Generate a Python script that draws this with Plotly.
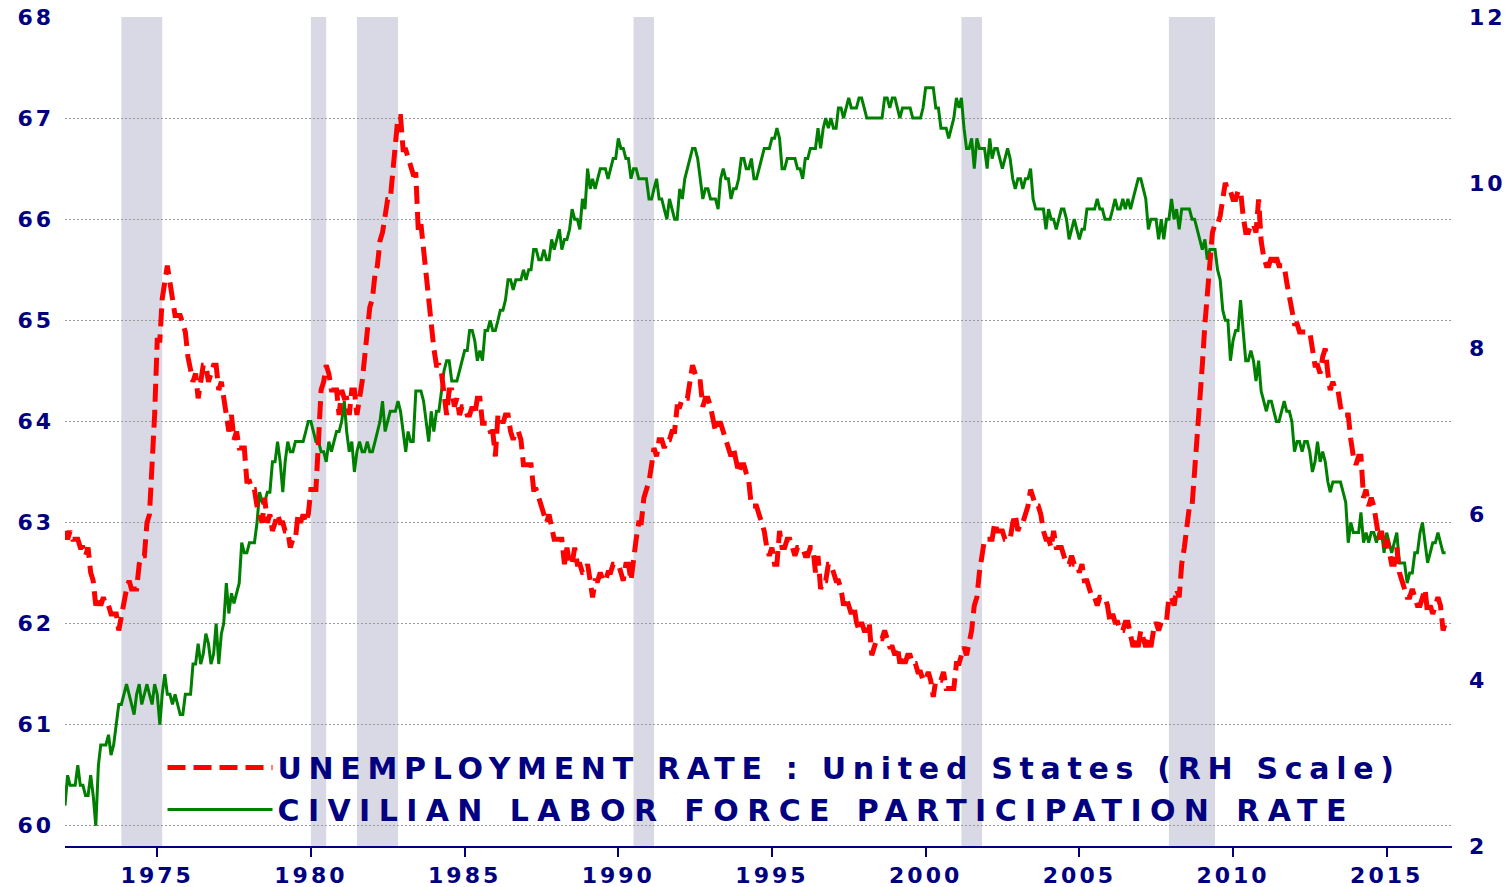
import pandas as pd
import plotly.graph_objects as go

# ---------------- data (monthly, Jan 1972 - Dec 2016) ----------------
start_month = "1972-01-01"

unemployment_rate = [
    5.8, 5.7, 5.8, 5.7, 5.7, 5.7, 5.6, 5.6, 5.5, 5.6, 5.3, 5.2,   # 1972
    4.9, 5.0, 4.9, 5.0, 4.9, 4.9, 4.8, 4.8, 4.8, 4.6, 4.8, 4.9,   # 1973
    5.1, 5.2, 5.1, 5.1, 5.1, 5.4, 5.5, 5.5, 5.9, 6.0, 6.6, 7.2,   # 1974
    8.1, 8.1, 8.6, 8.8, 9.0, 8.8, 8.6, 8.4, 8.4, 8.4, 8.3, 8.2,   # 1975
    7.9, 7.7, 7.6, 7.7, 7.4, 7.6, 7.8, 7.8, 7.6, 7.7, 7.8, 7.8,   # 1976
    7.5, 7.6, 7.4, 7.2, 7.0, 7.2, 6.9, 7.0, 6.8, 6.8, 6.8, 6.4,   # 1977
    6.4, 6.3, 6.3, 6.1, 6.0, 5.9, 6.2, 5.9, 6.0, 5.8, 5.9, 6.0,   # 1978
    5.9, 5.9, 5.8, 5.8, 5.6, 5.7, 5.7, 6.0, 5.9, 6.0, 5.9, 6.0,   # 1979
    6.3, 6.3, 6.3, 6.9, 7.5, 7.6, 7.8, 7.7, 7.5, 7.5, 7.5, 7.2,   # 1980
    7.5, 7.4, 7.4, 7.2, 7.5, 7.5, 7.2, 7.4, 7.6, 7.9, 8.3, 8.5,   # 1981
    8.6, 8.9, 9.0, 9.3, 9.4, 9.6, 9.8, 9.8, 10.1, 10.4, 10.8, 10.8,  # 1982
    10.4, 10.4, 10.3, 10.2, 10.1, 10.1, 9.4, 9.5, 9.2, 8.8, 8.5, 8.3,  # 1983
    8.0, 7.8, 7.8, 7.7, 7.4, 7.2, 7.5, 7.5, 7.3, 7.4, 7.2, 7.3,   # 1984
    7.3, 7.2, 7.2, 7.3, 7.2, 7.4, 7.4, 7.1, 7.1, 7.1, 7.0, 7.0,   # 1985
    6.7, 7.2, 7.2, 7.1, 7.2, 7.2, 7.0, 6.9, 7.0, 7.0, 6.9, 6.6,   # 1986
    6.6, 6.6, 6.6, 6.3, 6.3, 6.2, 6.1, 6.0, 5.9, 6.0, 5.8, 5.7,   # 1987
    5.7, 5.7, 5.7, 5.4, 5.6, 5.4, 5.4, 5.6, 5.4, 5.4, 5.3, 5.3,   # 1988
    5.4, 5.2, 5.0, 5.2, 5.2, 5.3, 5.2, 5.2, 5.3, 5.3, 5.4, 5.4,   # 1989
    5.4, 5.3, 5.2, 5.4, 5.4, 5.2, 5.5, 5.7, 5.9, 5.9, 6.2, 6.3,   # 1990
    6.4, 6.6, 6.8, 6.7, 6.9, 6.9, 6.8, 6.9, 6.9, 7.0, 7.0, 7.3,   # 1991
    7.3, 7.4, 7.4, 7.4, 7.6, 7.8, 7.7, 7.6, 7.6, 7.3, 7.4, 7.4,   # 1992
    7.3, 7.1, 7.0, 7.1, 7.1, 7.0, 6.9, 6.8, 6.7, 6.8, 6.6, 6.5,   # 1993
    6.6, 6.6, 6.5, 6.4, 6.1, 6.1, 6.1, 6.0, 5.9, 5.8, 5.6, 5.5,   # 1994
    5.6, 5.4, 5.4, 5.8, 5.6, 5.6, 5.7, 5.7, 5.6, 5.5, 5.6, 5.6,   # 1995
    5.6, 5.5, 5.5, 5.6, 5.6, 5.3, 5.5, 5.1, 5.2, 5.2, 5.4, 5.4,   # 1996
    5.3, 5.2, 5.2, 5.1, 4.9, 5.0, 4.9, 4.8, 4.9, 4.7, 4.6, 4.7,   # 1997
    4.6, 4.6, 4.7, 4.3, 4.4, 4.5, 4.5, 4.5, 4.6, 4.5, 4.4, 4.4,   # 1998
    4.3, 4.4, 4.2, 4.3, 4.2, 4.3, 4.3, 4.2, 4.2, 4.1, 4.1, 4.0,   # 1999
    4.0, 4.1, 4.0, 3.8, 4.0, 4.0, 4.0, 4.1, 3.9, 3.9, 3.9, 3.9,   # 2000
    4.2, 4.2, 4.3, 4.4, 4.3, 4.5, 4.6, 4.9, 5.0, 5.3, 5.5, 5.7,   # 2001
    5.7, 5.7, 5.7, 5.9, 5.8, 5.8, 5.8, 5.7, 5.7, 5.7, 5.9, 6.0,   # 2002
    5.8, 5.9, 5.9, 6.0, 6.1, 6.3, 6.2, 6.1, 6.1, 6.0, 5.8, 5.7,   # 2003
    5.7, 5.6, 5.8, 5.6, 5.6, 5.6, 5.5, 5.4, 5.4, 5.5, 5.4, 5.4,   # 2004
    5.3, 5.4, 5.2, 5.2, 5.1, 5.0, 5.0, 4.9, 5.0, 5.0, 5.0, 4.9,   # 2005
    4.7, 4.8, 4.7, 4.7, 4.6, 4.6, 4.7, 4.7, 4.5, 4.4, 4.5, 4.4,   # 2006
    4.6, 4.5, 4.4, 4.5, 4.4, 4.6, 4.7, 4.6, 4.7, 4.7, 4.7, 5.0,   # 2007
    5.0, 4.9, 5.1, 5.0, 5.4, 5.6, 5.8, 6.1, 6.1, 6.5, 6.8, 7.3,   # 2008
    7.8, 8.3, 8.7, 9.0, 9.4, 9.5, 9.5, 9.6, 9.8, 10.0, 9.9, 9.9,  # 2009
    9.8, 9.8, 9.9, 9.9, 9.6, 9.4, 9.4, 9.5, 9.5, 9.4, 9.8, 9.3,   # 2010
    9.1, 9.0, 9.0, 9.1, 9.0, 9.1, 9.0, 9.0, 9.0, 8.8, 8.6, 8.5,   # 2011
    8.3, 8.3, 8.2, 8.2, 8.2, 8.2, 8.2, 8.0, 7.8, 7.8, 7.7, 7.9,   # 2012
    8.0, 7.7, 7.5, 7.6, 7.5, 7.5, 7.3, 7.2, 7.2, 7.2, 6.9, 6.7,   # 2013
    6.6, 6.7, 6.7, 6.2, 6.3, 6.1, 6.2, 6.1, 5.9, 5.7, 5.8, 5.6,   # 2014
    5.7, 5.5, 5.4, 5.4, 5.6, 5.3, 5.2, 5.1, 5.0, 5.0, 5.1, 5.0,   # 2015
    4.9, 4.9, 5.0, 5.1, 4.8, 4.9, 4.8, 4.9, 5.0, 4.9, 4.6, 4.7,   # 2016
]

participation_rate = [
    60.2, 60.5, 60.4, 60.4, 60.4, 60.6, 60.4, 60.4, 60.3, 60.3, 60.5, 60.3,  # 1972
    60.0, 60.6, 60.8, 60.8, 60.8, 60.9, 60.7, 60.8, 61.0, 61.2, 61.2, 61.3,  # 1973
    61.4, 61.3, 61.2, 61.1, 61.3, 61.4, 61.2, 61.3, 61.4, 61.3, 61.2, 61.4,  # 1974
    61.3, 61.0, 61.3, 61.5, 61.3, 61.3, 61.2, 61.3, 61.2, 61.1, 61.1, 61.3,  # 1975
    61.3, 61.3, 61.6, 61.6, 61.8, 61.6, 61.7, 61.9, 61.8, 61.6, 61.7, 62.0,  # 1976
    61.6, 61.9, 62.0, 62.4, 62.1, 62.3, 62.2, 62.3, 62.4, 62.8, 62.7, 62.7,  # 1977
    62.8, 62.8, 62.8, 63.0, 63.3, 63.2, 63.2, 63.3, 63.3, 63.6, 63.6, 63.8,  # 1978
    63.6, 63.3, 63.6, 63.8, 63.7, 63.7, 63.8, 63.8, 63.8, 63.8, 63.9, 64.0,  # 1979
    64.0, 63.9, 63.8, 63.8, 63.7, 63.7, 63.6, 63.8, 63.7, 63.8, 63.9, 63.9,  # 1980
    64.0, 64.2, 63.9, 63.7, 63.8, 63.5, 63.7, 63.8, 63.7, 63.7, 63.8, 63.7,  # 1981
    63.7, 63.8, 63.9, 64.0, 64.2, 63.9, 64.0, 64.1, 64.1, 64.1, 64.2, 64.1,  # 1982
    63.9, 63.7, 63.9, 63.8, 63.8, 64.3, 64.3, 64.3, 64.2, 64.0, 63.8, 64.1,  # 1983
    63.9, 64.1, 64.1, 64.3, 64.5, 64.6, 64.6, 64.4, 64.4, 64.4, 64.5, 64.6,  # 1984
    64.7, 64.7, 64.9, 64.9, 64.8, 64.6, 64.7, 64.6, 64.9, 64.9, 65.0, 64.9,  # 1985
    64.9, 65.0, 65.1, 65.1, 65.2, 65.4, 65.4, 65.3, 65.4, 65.4, 65.4, 65.5,  # 1986
    65.4, 65.5, 65.5, 65.7, 65.7, 65.6, 65.6, 65.7, 65.6, 65.6, 65.8, 65.7,  # 1987
    65.8, 65.9, 65.7, 65.8, 65.8, 65.9, 66.1, 66.0, 66.0, 65.9, 66.2, 66.1,  # 1988
    66.5, 66.3, 66.4, 66.3, 66.4, 66.5, 66.5, 66.5, 66.4, 66.5, 66.6, 66.6,  # 1989
    66.8, 66.7, 66.7, 66.6, 66.6, 66.4, 66.5, 66.5, 66.4, 66.4, 66.4, 66.4,  # 1990
    66.2, 66.2, 66.3, 66.4, 66.2, 66.2, 66.1, 66.0, 66.2, 66.1, 66.0, 66.0,  # 1991
    66.3, 66.2, 66.4, 66.5, 66.6, 66.7, 66.7, 66.6, 66.4, 66.2, 66.3, 66.3,  # 1992
    66.2, 66.2, 66.2, 66.1, 66.4, 66.5, 66.4, 66.4, 66.2, 66.3, 66.3, 66.4,  # 1993
    66.6, 66.6, 66.5, 66.5, 66.6, 66.4, 66.4, 66.5, 66.6, 66.7, 66.7, 66.7,  # 1994
    66.8, 66.8, 66.9, 66.8, 66.5, 66.5, 66.6, 66.6, 66.6, 66.6, 66.5, 66.5,  # 1995
    66.4, 66.6, 66.6, 66.7, 66.7, 66.7, 66.9, 66.7, 66.9, 67.0, 66.9, 67.0,  # 1996
    66.9, 66.9, 67.1, 67.1, 67.0, 67.1, 67.2, 67.1, 67.1, 67.1, 67.2, 67.2,  # 1997
    67.1, 67.0, 67.0, 67.0, 67.0, 67.0, 67.0, 67.0, 67.2, 67.2, 67.1, 67.2,  # 1998
    67.2, 67.1, 67.0, 67.1, 67.1, 67.1, 67.1, 67.0, 67.0, 67.0, 67.0, 67.1,  # 1999
    67.3, 67.3, 67.3, 67.3, 67.1, 67.1, 66.9, 66.9, 66.9, 66.8, 66.9, 67.0,  # 2000
    67.2, 67.1, 67.2, 66.9, 66.7, 66.7, 66.8, 66.5, 66.8, 66.7, 66.7, 66.7,  # 2001
    66.5, 66.8, 66.6, 66.7, 66.7, 66.6, 66.5, 66.6, 66.7, 66.6, 66.4, 66.3,  # 2002
    66.4, 66.4, 66.3, 66.4, 66.4, 66.5, 66.2, 66.1, 66.1, 66.1, 66.1, 65.9,  # 2003
    66.1, 66.0, 66.0, 65.9, 66.0, 66.1, 66.1, 66.0, 65.8, 65.9, 66.0, 65.9,  # 2004
    65.8, 65.9, 65.9, 66.1, 66.1, 66.1, 66.1, 66.2, 66.1, 66.1, 66.0, 66.0,  # 2005
    66.0, 66.1, 66.2, 66.1, 66.1, 66.2, 66.1, 66.2, 66.1, 66.2, 66.3, 66.4,  # 2006
    66.4, 66.3, 66.2, 65.9, 66.0, 66.0, 66.0, 65.8, 66.0, 65.8, 66.0, 66.0,  # 2007
    66.2, 66.0, 66.1, 65.9, 66.1, 66.1, 66.1, 66.1, 66.0, 66.0, 65.9, 65.8,  # 2008
    65.7, 65.8, 65.6, 65.7, 65.7, 65.7, 65.5, 65.4, 65.1, 65.0, 65.0, 64.6,  # 2009
    64.8, 64.9, 64.9, 65.2, 64.9, 64.6, 64.6, 64.7, 64.6, 64.4, 64.6, 64.3,  # 2010
    64.2, 64.1, 64.2, 64.2, 64.1, 64.0, 64.0, 64.1, 64.2, 64.1, 64.1, 64.0,  # 2011
    63.7, 63.8, 63.8, 63.7, 63.8, 63.8, 63.7, 63.5, 63.6, 63.8, 63.6, 63.7,  # 2012
    63.6, 63.4, 63.3, 63.4, 63.4, 63.4, 63.4, 63.3, 63.2, 62.8, 63.0, 62.9,  # 2013
    62.9, 62.9, 63.1, 62.8, 62.9, 62.8, 62.9, 62.9, 62.8, 62.9, 62.9, 62.7,  # 2014
    62.9, 62.8, 62.7, 62.8, 62.9, 62.6, 62.6, 62.6, 62.4, 62.5, 62.5, 62.7,  # 2015
    62.7, 62.9, 63.0, 62.8, 62.6, 62.7, 62.8, 62.8, 62.9, 62.8, 62.7, 62.7,  # 2016
]

recession_starts = ["1973-11-01", "1980-01-01", "1981-07-01", "1990-07-01", "2001-03-01", "2007-12-01"]
recession_ends = ["1975-03-01", "1980-07-01", "1982-11-01", "1991-03-01", "2001-11-01", "2009-06-01"]

x_tick_years = [1975, 1980, 1985, 1990, 1995, 2000, 2005, 2010, 2015]
left_ticks = [60, 61, 62, 63, 64, 65, 66, 67, 68]
right_ticks = [2, 4, 6, 8, 10, 12]

series_names = ["UNEMPLOYMENT RATE : United States (RH Scale)",
                "CIVILIAN LABOR FORCE PARTICIPATION RATE"]

# ---------------- styling ----------------
NAVY = "#000080"
FONT = "DejaVu Sans"


def spaced(text, px):
    return f'<span style="letter-spacing:{px}px">{text}</span>'


dates = pd.date_range(start_month, periods=len(unemployment_rate), freq="MS")

fig = go.Figure()

fig.add_trace(go.Scatter(
    x=dates, y=participation_rate, yaxis="y", mode="lines",
    name=spaced(series_names[1], 8.4), legendrank=2,
    line=dict(color="#008000", width=3),
))
fig.add_trace(go.Scatter(
    x=dates, y=unemployment_rate, yaxis="y2", mode="lines",
    name=spaced(series_names[0], 6.7), legendrank=1,
    line=dict(color="#ff0000", width=5, dash="18px,8px"),
))

for s, e in zip(recession_starts, recession_ends):
    fig.add_shape(type="rect", xref="x", yref="paper", x0=s, x1=e, y0=0, y1=1,
                  fillcolor="#d9d9e5", line=dict(width=0), layer="below")

tickfont = dict(family=FONT, size=22, color=NAVY, weight=700)

fig.update_layout(
    width=1509, height=887,
    margin=dict(l=65, r=57, t=17, b=41, autoexpand=False),
    paper_bgcolor="white", plot_bgcolor="white",
    showlegend=True,
    legend=dict(
        x=0.0703, y=0.126, xanchor="left", yanchor="top",
        bgcolor="rgba(0,0,0,0)", borderwidth=0,
        font=dict(family=FONT, size=30, color=NAVY, weight=700),
        itemwidth=105, tracegroupgap=0,
    ),
    xaxis=dict(
        type="date", range=["1972-01-01", "2017-02-15"],
        tickvals=[f"{y}-01-01" for y in x_tick_years],
        ticktext=[spaced(str(y), 3) for y in x_tick_years],
        tickfont=tickfont,
        showgrid=False, zeroline=False,
        showline=True, linecolor=NAVY, linewidth=2,
        ticks="outside", ticklen=9, tickwidth=2, tickcolor=NAVY,
        ticklabeloverflow="allow",
        automargin=False,
    ),
    yaxis=dict(
        range=[59.80, 68.0],
        tickvals=left_ticks,
        ticktext=[spaced(str(v), 3) for v in left_ticks],
        tickfont=tickfont,
        showgrid=True, gridcolor="#9a9a9a", gridwidth=1, griddash="2px,2px",
        zeroline=False, showline=False, ticks="",
        ticklabelstandoff=10, ticklabeloverflow="allow",
        automargin=False,
    ),
    yaxis2=dict(
        range=[2, 12], overlaying="y", side="right",
        tickvals=right_ticks,
        ticktext=[spaced(str(v), 3) for v in right_ticks],
        tickfont=tickfont,
        showgrid=False, zeroline=False, showline=False, ticks="",
        ticklabelstandoff=16, ticklabeloverflow="allow",
        automargin=False,
    ),
)

# remove the browser's default 8px body margin so the figure fills the window exactly
fig.write_html("out.html", config={"displayModeBar": False},
               post_script="document.body.style.margin='0';")
